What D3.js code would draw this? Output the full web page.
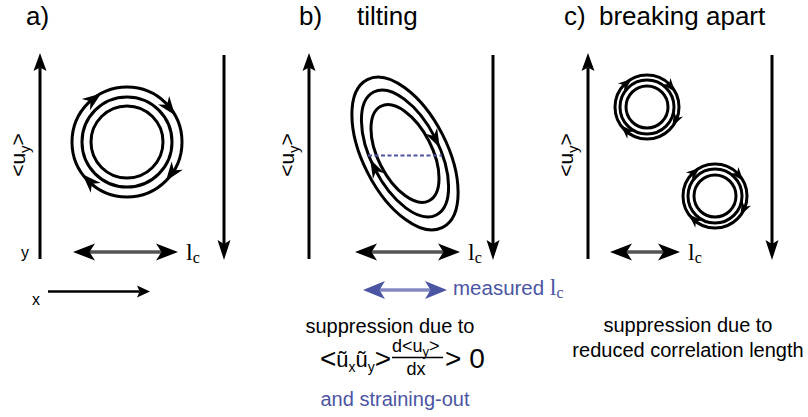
<!DOCTYPE html>
<html>
<script src="https://d3js.org/d3.v7.min.js"></script>
<body style="margin:0;background:#fff">
<svg id="fig" width="808" height="417"></svg>
<script>
// Panel texts
const panelLabels = ["a)", "b)", "c)"];
const panelTitles = ["", "tilting", "breaking apart"];
const captionB = ["suppression due to"];
const noteB = "and straining-out";
const captionC = ["suppression due to", "reduced correlation length"];

// Vortex geometry (channel units, 1 unit ~ 1 px)
const ringsA = [55, 45, 36];
const ringsC = [32, 27, 21];
const ellipseAxes = [[83, 42], [69, 34], [53, 27]];
const tiltDeg = 63;
const arrowAnglesA = [-118, -29, 45, 144];
const arrowAnglesC = [-118, -28, 38, 145];
const ellipseArrowT = [-81, 99];
const vortexA = [[87, 89]];
const vortexB = [[96, 100.5]];
const vortexC = [[59, 54], [127, 143]];
// correlation length bars [x0, x1]
const lcBars = [[33, 138], [46, 151], [22, 92]];
const measuredLc = [54, 138];

const svg = d3.select("#fig");
const sans = "'Liberation Sans', Arial, Helvetica, sans-serif";
const serif = "'Liberation Serif', 'Times New Roman', serif";
const blue = "#4b55a3";

const panelLeft = [40, 309, 588];
const chanW = 185, chanTop = 53, chanBot = 259;
const xs = panelLeft.map(l => d3.scaleLinear().domain([0, chanW]).range([l, l + chanW]));
const ys = d3.scaleLinear().domain([0, chanBot - chanTop]).range([chanTop, chanBot]);

function head(g, tx, ty, dir, len, wid, notch, color) {
  const c = Math.cos(dir), s = Math.sin(dir);
  const p = (u, v) => [tx + u * c - v * s, ty + u * s + v * c];
  const pts = [[tx, ty], p(-len, -wid / 2), p(-len * notch, 0), p(-len, wid / 2)];
  g.append("path")
    .attr("d", "M" + pts.map(d => d.join(",")).join("L") + "Z")
    .attr("fill", color);
}

function arrow(g, x1, y1, x2, y2, o) {
  const color = o.color || "#000";
  const dir = Math.atan2(y2 - y1, x2 - x1);
  const c = Math.cos(dir), s = Math.sin(dir);
  let a = [x1, y1], b = [x2, y2];
  if (o.end) b = [x2 - c * o.len * o.notch, y2 - s * o.len * o.notch];
  if (o.start) a = [x1 + c * o.len * o.notch, y1 + s * o.len * o.notch];
  g.append("line").attr("x1", a[0]).attr("y1", a[1]).attr("x2", b[0]).attr("y2", b[1])
    .attr("stroke", color).attr("stroke-width", o.w);
  if (o.hollow) {
    g.append("line").attr("x1", a[0]).attr("y1", a[1]).attr("x2", b[0]).attr("y2", b[1])
      .attr("stroke", o.inner || "#bbb").attr("stroke-width", o.hollow);
  }
  if (o.end) head(g, x2, y2, dir, o.len, o.wid, o.notch, color);
  if (o.start) head(g, x1, y1, dir + Math.PI, o.len, o.wid, o.notch, color);
}

// arrowhead placed on a parametric curve: tip at param t, back at t - dt
function curveHead(g, f, t, dt, len, wid) {
  const tip = f(t), back = f(t - dt);
  head(g, tip[0], tip[1], Math.atan2(tip[1] - back[1], tip[0] - back[0]), len, wid, 0.7, "#000");
}

const lcHead = {w: 3.2, hollow: 0.9, len: 22, wid: 17, notch: 0.75, start: true, end: true};

panelLeft.forEach((l, i) => {
  const g = svg.append("g");
  const x = xs[i];
  // mean flow arrows
  arrow(g, x(0), ys(chanBot - chanTop), x(0), ys(0), {w: 3, len: 18, wid: 13, notch: 0.8, end: true});
  arrow(g, x(chanW - 1), ys(2), x(chanW - 1), ys(chanBot - chanTop + 1), {w: 3, len: 20, wid: 13, notch: 0.8, end: true});
  // <u_y> label
  const t = g.append("text")
    .attr("transform", `translate(${x(0) - 15},${155}) rotate(-90)`)
    .attr("text-anchor", "middle").attr("font-family", sans).attr("font-size", 21);
  t.append("tspan").text("<u");
  t.append("tspan").text("y").attr("font-size", 15).attr("dy", 5);
  t.append("tspan").text(">").attr("dy", -5);
  // panel label and title
  g.append("text").attr("x", [26, 299, 564][i]).attr("y", 25)
    .attr("font-family", sans).attr("font-size", 26).text(panelLabels[i]);
  if (panelTitles[i]) g.append("text").attr("x", [0, 357, 599][i]).attr("y", 25)
    .attr("font-family", sans).attr("font-size", 26).text(panelTitles[i]);
  // correlation length
  const yl = ys(199);
  arrow(g, x(lcBars[i][0]), yl, x(lcBars[i][1]), yl, lcHead);
  const lt = g.append("text").attr("x", x(lcBars[i][1]) + 8).attr("y", yl + 8)
    .attr("font-family", serif).attr("font-size", 24);
  lt.append("tspan").text("l");
  lt.append("tspan").text("c").attr("font-size", 16).attr("dy", 3);
});

// panel a: concentric rings
const ga = svg.append("g");
vortexA.forEach(([cx, cy]) => {
  const X = xs[0](cx), Y = ys(cy);
  ringsA.forEach(r => ga.append("circle").attr("cx", X).attr("cy", Y).attr("r", r)
    .attr("fill", "none").attr("stroke", "#000").attr("stroke-width", 3));
  const R = ringsA[0];
  const f = a => [X + R * Math.cos(a), Y + R * Math.sin(a)];
  arrowAnglesA.forEach(a => curveHead(ga, f, a * Math.PI / 180, 16 / R, 19, 14));
});

// panel b: tilted ellipses
const gb = svg.append("g");
vortexB.forEach(([cx, cy]) => {
  const X = xs[1](cx), Y = ys(cy);
  const th = tiltDeg * Math.PI / 180;
  const ell = (A, B) => t => [
    X + A * Math.cos(t) * Math.cos(th) - B * Math.sin(t) * Math.sin(th),
    Y + A * Math.cos(t) * Math.sin(th) + B * Math.sin(t) * Math.cos(th)];
  ellipseAxes.forEach(([A, B]) => {
    gb.append("ellipse").attr("cx", 0).attr("cy", 0).attr("rx", A).attr("ry", B)
      .attr("transform", `translate(${X},${Y}) rotate(${tiltDeg})`)
      .attr("fill", "none").attr("stroke", "#000").attr("stroke-width", 3);
  });
  // dashed width across the middle ellipse
  const [A, B] = ellipseAxes[1];
  const half = A * B / Math.sqrt(A * A * Math.sin(th) ** 2 + B * B * Math.cos(th) ** 2);
  gb.append("line").attr("x1", X - half).attr("x2", X + half).attr("y1", Y + 2).attr("y2", Y + 2)
    .attr("stroke", blue).attr("stroke-width", 2).attr("stroke-dasharray", "4,2.5");
  const f = ell(A, B);
  ellipseArrowT.forEach(t => curveHead(gb, f, t * Math.PI / 180, 0.3, 19, 13));
});

// measured l_c
const ym = ys(237);
arrow(gb, xs[1](measuredLc[0]), ym, xs[1](measuredLc[1]), ym,
  {w: 3.2, hollow: 0.9, inner: "#c5c8e2", len: 22, wid: 18, notch: 0.75, start: true, end: true, color: blue});
const mt = gb.append("text").attr("x", xs[1](measuredLc[1]) + 6).attr("y", ym + 5)
  .attr("font-family", sans).attr("font-size", 20.5).attr("fill", blue);
mt.append("tspan").text("measured ");
mt.append("tspan").text("l").attr("font-family", serif).attr("font-size", 24);
mt.append("tspan").text("c").attr("font-family", serif).attr("font-size", 16).attr("dy", 3);

// panel c: two small vortices
const gc = svg.append("g");
vortexC.forEach(([cx, cy]) => {
  const X = xs[2](cx), Y = ys(cy);
  ringsC.forEach(r => gc.append("circle").attr("cx", X).attr("cy", Y).attr("r", r)
    .attr("fill", "none").attr("stroke", "#000").attr("stroke-width", 3));
  const R = ringsC[0];
  const f = a => [X + R * Math.cos(a), Y + R * Math.sin(a)];
  arrowAnglesC.forEach(a => curveHead(gc, f, a * Math.PI / 180, 12 / R, 14, 10));
});

// coordinate axes hint in a
arrow(ga, 48, 291.5, 150, 291.5, {w: 2.5, len: 13, wid: 12, notch: 0.8, end: true});
ga.append("text").attr("x", 21).attr("y", 258).attr("font-family", sans).attr("font-size", 16).text("y");
ga.append("text").attr("x", 32).attr("y", 305).attr("font-family", sans).attr("font-size", 16).text("x");

// captions
captionB.forEach((s, i) => gb.append("text").attr("x", 390).attr("y", 333 + i * 25)
  .attr("text-anchor", "middle").attr("font-family", sans).attr("font-size", 20).text(s));
gb.append("text").attr("x", 395).attr("y", 406).attr("text-anchor", "middle")
  .attr("font-family", sans).attr("font-size", 20).attr("fill", blue).text(noteB);
captionC.forEach((s, i) => gc.append("text").attr("x", 688).attr("y", 332 + i * 25)
  .attr("text-anchor", "middle").attr("font-family", sans).attr("font-size", 20).text(s));

// formula  < u~x u~y > d<uy>/dx > 0
const fm = gb.append("text").attr("x", 320).attr("y", 368).attr("font-family", sans).attr("font-size", 28);
fm.append("tspan").text("<");
fm.append("tspan").text("ũ").attr("font-size", 22).attr("dy", -1);
fm.append("tspan").text("x").attr("font-size", 14).attr("dy", 5);
fm.append("tspan").text("ũ").attr("font-size", 22).attr("dy", -5);
fm.append("tspan").text("y").attr("font-size", 14).attr("dy", 5);
fm.append("tspan").text(">").attr("dy", -4);
const num = gb.append("text").attr("x", 392).attr("y", 352).attr("font-family", sans).attr("font-size", 18);
num.append("tspan").text("d<u");
num.append("tspan").text("y").attr("font-size", 13).attr("dy", 4);
num.append("tspan").text(">").attr("dy", -4);
gb.append("line").attr("x1", 392).attr("x2", 443).attr("y1", 357.5).attr("y2", 357.5)
  .attr("stroke", "#000").attr("stroke-width", 1.5);
gb.append("text").attr("x", 416).attr("y", 375).attr("text-anchor", "middle")
  .attr("font-family", sans).attr("font-size", 18).text("dx");
gb.append("text").attr("x", 445).attr("y", 368).attr("font-family", sans).attr("font-size", 28).text("> 0");
</script>
</body>
</html>
